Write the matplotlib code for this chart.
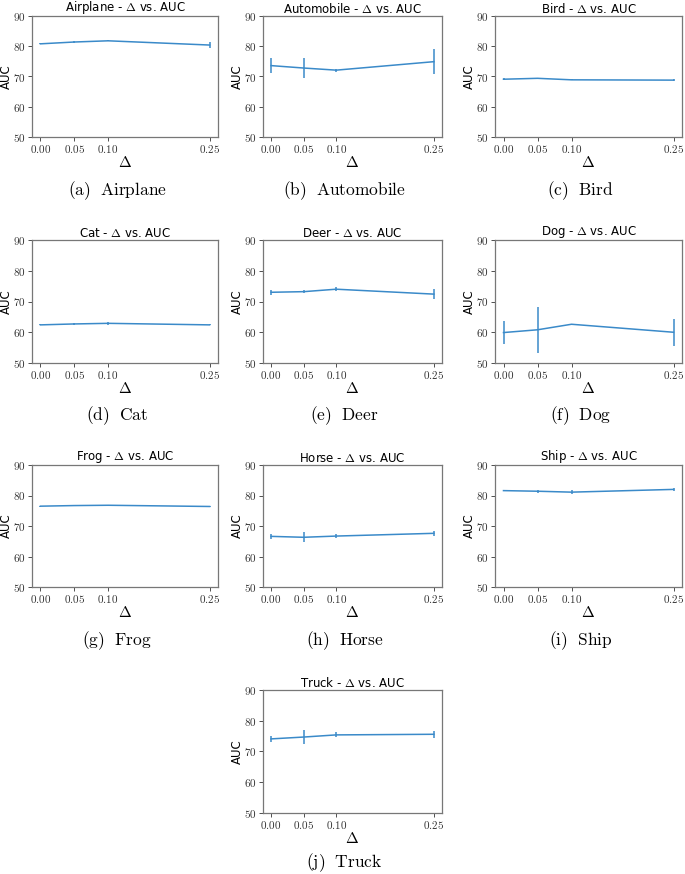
import matplotlib
matplotlib.use("Agg")
import matplotlib.pyplot as plt
from matplotlib.ticker import FuncFormatter

plt.rcParams['mathtext.fontset'] = 'cm'
plt.rcParams['font.family'] = 'DejaVu Sans'

# ===============================
# Data
# ===============================
deltas = [0.00, 0.05, 0.10, 0.25]
classes = ['Airplane', 'Automobile', 'Bird', 'Cat', 'Deer',
           'Dog', 'Frog', 'Horse', 'Ship', 'Truck']
letters = ['a', 'b', 'c', 'd', 'e', 'f', 'g', 'h', 'i', 'j']

auc_airplane = [80.8, 81.4, 81.8, 80.4]
err_airplane = [0.2, 0.2, 0.2, 1.0]
auc_automobile = [73.6, 72.8, 72.1, 74.9]
err_automobile = [2.5, 3.4, 0.5, 4.2]
auc_bird = [69.1, 69.4, 68.9, 68.8]
err_bird = [0.3, 0.2, 0.2, 0.3]
auc_cat = [62.4, 62.7, 62.9, 62.4]
err_cat = [0.2, 0.2, 0.5, 0.2]
auc_deer = [73.0, 73.2, 74.0, 72.4]
err_deer = [0.9, 0.5, 0.7, 1.6]
auc_dog = [59.9, 60.8, 62.6, 60.0]
err_dog = [3.8, 7.4, 0.2, 4.4]
auc_frog = [76.5, 76.7, 76.8, 76.4]
err_frog = [0.2, 0.1, 0.1, 0.1]
auc_horse = [66.6, 66.3, 66.7, 67.6]
err_horse = [0.8, 1.6, 0.7, 0.9]
auc_ship = [81.6, 81.4, 81.1, 82.0]
err_ship = [0.2, 0.5, 0.6, 0.5]
auc_truck = [74.1, 74.7, 75.4, 75.6]
err_truck = [1.0, 2.2, 0.8, 1.2]

aucs = [auc_airplane, auc_automobile, auc_bird, auc_cat, auc_deer,
        auc_dog, auc_frog, auc_horse, auc_ship, auc_truck]
errs = [err_airplane, err_automobile, err_bird, err_cat, err_deer,
        err_dog, err_frog, err_horse, err_ship, err_truck]

# ===============================
# Layout (pixel boxes)
# ===============================
W, H = 685, 874
col_left = [32, 263, 495]
col_right = [218, 442, 682]
row_top = [16, 240, 465, 690]
row_bottom = [137, 363, 587, 813]
caption_y = [191, 416, 641, 863]

fig = plt.figure(figsize=(W / 100, H / 100), dpi=100)

tick_fmt = FuncFormatter(lambda v, p: r'$%.2f$' % v)
ytick_fmt = FuncFormatter(lambda v, p: r'$%d$' % v)

for i, name in enumerate(classes):
    if i < 9:
        r, c = divmod(i, 3)
    else:
        r, c = 3, 1
    l, rt = col_left[c], col_right[c]
    t, b = row_top[r], row_bottom[r]
    ax = fig.add_axes([l / W, 1 - b / H, (rt - l) / W, (b - t) / H])
    ax.errorbar(deltas, aucs[i], yerr=errs[i], color='#3a8ac9', linewidth=1.1, elinewidth=1.1)
    ax.set_ylim(50, 90)
    ax.set_xticks(deltas)
    ax.set_yticks([50, 60, 70, 80, 90])
    ax.xaxis.set_major_formatter(tick_fmt)
    ax.yaxis.set_major_formatter(ytick_fmt)
    ax.tick_params(labelsize=8, length=3, width=0.6, pad=1.5, colors='#333333')
    for s in ax.spines.values():
        s.set_linewidth(0.9)
        s.set_color('#777777')
    ax.set_title(name + r' - $\Delta$ vs. AUC', fontsize=8.5, pad=1)
    ax.set_ylabel('AUC', fontsize=8.5)
    ax.yaxis.set_label_coords(-19 / (rt - l), 0.5)
    ax.set_xlabel(r'$\Delta$', fontsize=11, labelpad=0)
    cx = (l + rt) / 2 - 8
    fig.text(cx / W, 1 - caption_y[r] / H, r'$\mathrm{(%s)\ \ %s}$' % (letters[i], name),
             ha='center', va='center', fontsize=12.5)

plt.savefig('out.png', dpi=100)
plt.close()
